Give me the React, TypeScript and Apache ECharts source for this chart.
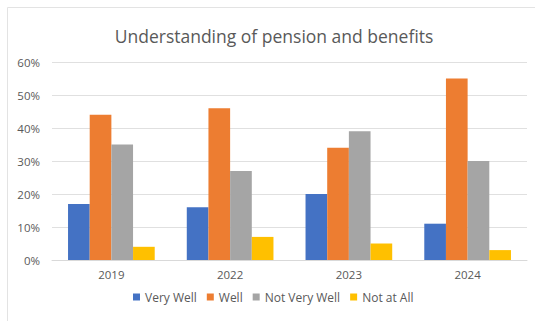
import React, { useEffect, useRef } from "react";
import * as echarts from "echarts";

const categories = ["2019", "2022", "2023", "2024"];
const seriesNames = ["Very Well", "Well", "Not Very Well", "Not at All"];
const veryWell = [17, 16, 20, 11];
const well = [44, 46, 34, 55];
const notVeryWell = [35, 27, 39, 30];
const notAtAll = [4, 7, 5, 3];
const colors = ["#4472C4", "#ED7D31", "#A5A5A5", "#FFC000"];

const FONT = "'Open Sans', 'Noto Sans', sans-serif";

export default function App() {
  const ref = useRef<HTMLDivElement>(null);
  useEffect(() => {
    if (!ref.current) return;
    const chart = echarts.init(ref.current, undefined, { renderer: "svg" });
    const values = [veryWell, well, notVeryWell, notAtAll];
    chart.setOption({
      animation: false,
      backgroundColor: "#ffffff",
      color: colors,
      title: {
        text: "Understanding of pension and benefits",
        left: 269,
        textAlign: "center",
        top: 22,
        textStyle: { fontFamily: FONT, fontSize: 17.5, fontWeight: "normal", color: "#595959" },
      },
      graphic: [
        {
          type: "rect",
          shape: { x: 7.5, y: 7.5, width: 540, height: 330 },
          style: { fill: "none", stroke: "#e3e3e3", lineWidth: 1 },
          silent: true,
        },
      ],
      legend: {
        bottom: 13,
        left: 128,
        itemWidth: 7,
        itemHeight: 7,
        itemGap: 10,
        icon: "rect",
        textStyle: { fontFamily: FONT, fontSize: 12, color: "#595959" },
        data: seriesNames,
      },
      grid: { left: 52, right: 8, top: 62, bottom: 61, containLabel: false },
      xAxis: {
        type: "category",
        data: categories,
        axisTick: { show: false },
        axisLine: { lineStyle: { color: "#d9d9d9" } },
        axisLabel: { fontFamily: FONT, fontSize: 11.5, color: "#595959", margin: 8 },
      },
      yAxis: {
        type: "value",
        min: 0,
        max: 60,
        interval: 10,
        axisLabel: { formatter: "{value}%", fontFamily: FONT, fontSize: 11.5, color: "#595959", margin: 12 },
        splitLine: { lineStyle: { color: "#e0e0e0" } },
        axisLine: { show: false },
        axisTick: { show: false },
      },
      series: seriesNames.map((name, i) => ({
        name,
        type: "bar",
        data: values[i],
        barGap: "0%",
        barCategoryGap: "27%",
        itemStyle: { color: colors[i] },
      })),
    });
    return () => chart.dispose();
  }, []);
  return <div ref={ref} style={{ position: "fixed", left: 0, top: 0, width: 535, height: 321 }} />;
}
